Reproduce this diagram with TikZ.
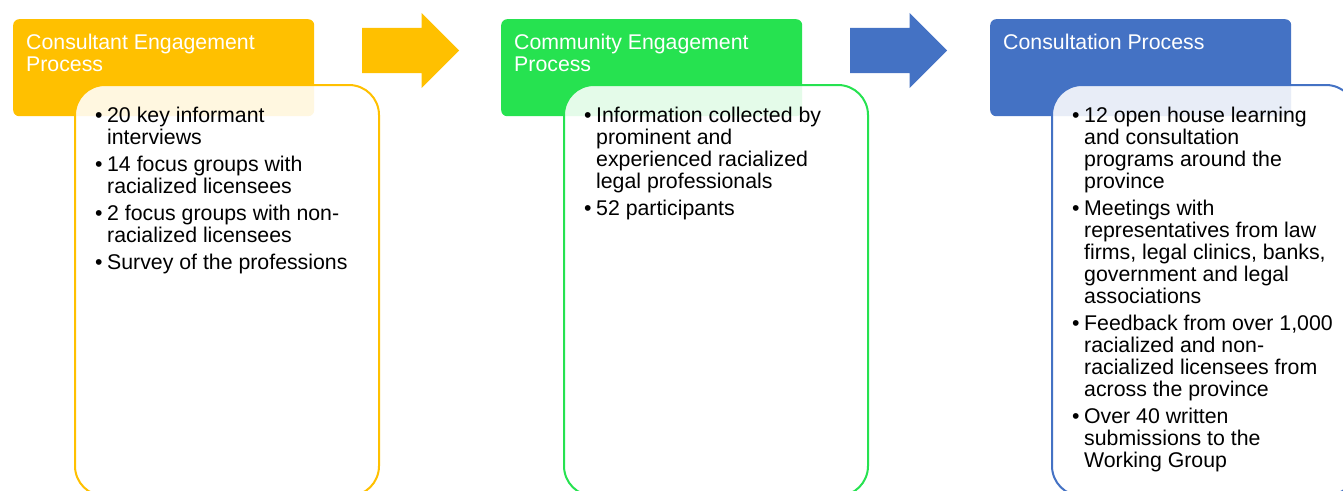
\documentclass[tikz,border=0pt]{standalone}
\usepackage{fontspec}
\setmainfont{Liberation Sans}
\usetikzlibrary{positioning}
\usetikzlibrary{shapes.arrows}
\definecolor{conyellow}{HTML}{FFC000}
\definecolor{comgreen}{HTML}{26E250}
\definecolor{cnsblue}{HTML}{4472C4}

\begin{document}
\begin{tikzpicture}[x=1pt, y=-1pt,
headbox/.style={rectangle, rounded corners=6pt, fill=#1, minimum width=301pt, minimum height=97pt, inner sep=0pt, anchor=north west},
bodybox/.style={rectangle, rounded corners=30pt, draw=#1, line width=2pt, fill=white, fill opacity=0.88, draw opacity=1, minimum width=304pt, minimum height=411pt, inner sep=0pt},
headtext/.style={text=white, inner sep=0pt, font=\fontsize{21.3}{22}\selectfont},
bodytext/.style={text=black, inner sep=0pt, font=\fontsize{21.3}{22}\selectfont},
flowarrow/.style={single arrow, fill=#1, single arrow head extend=15pt, single arrow tip angle=90, minimum height=97pt, inner xsep=0pt, inner ysep=22.5pt, anchor=west},
]
\useasboundingbox (0,0) rectangle (1343,490);

%Headers
\node[headbox=conyellow] (conhead) at (13,19)   {};
\node[headbox=comgreen]  (comhead) at (501,19)  {};
\node[headbox=cnsblue]   (cnshead) at (990,19)  {};

%Arrows
\node[flowarrow=conyellow] (arrowa) at (362,50.5) {};
\node[flowarrow=cnsblue]   (arrowb) at (850,50.5) {};

%Bodies
\node[bodybox=conyellow] (conbody) [below right=65pt and 61pt of conhead.north west] {};
\node[bodybox=comgreen]  (combody) [below right=65pt and 62pt of comhead.north west] {};
\node[bodybox=cnsblue]   (cnsbody) [below right=65pt and 61pt of cnshead.north west] {};

%Titles
\node[headtext, below right=30pt and 13pt of conhead.north west, anchor=base west] (contitle)
  {\begin{tabular}[t]{@{}l@{}}Consultant Engagement\\Process\end{tabular}};
\node[headtext, below right=30pt and 13pt of comhead.north west, anchor=base west] (comtitle)
  {\begin{tabular}[t]{@{}l@{}}Community Engagement\\Process\end{tabular}};
\node[headtext, below right=30pt and 13pt of cnshead.north west, anchor=base west] (cnstitle)
  {Consultation Process};

%Lists
\node[bodytext, below right=38pt and 21pt of conbody.north west, anchor=base west] (conlist)
  {\begin{tabular}[t]{@{}l@{\hspace{4.5pt}}l@{}}
  \textbullet & 20 key informant\\ & interviews\\[5pt]
  \textbullet & 14 focus groups with\\ & racialized licensees\\[5pt]
  \textbullet & 2 focus groups with non-\\ & racialized licensees\\[5pt]
  \textbullet & Survey of the professions
  \end{tabular}};
\node[bodytext, below right=38pt and 21pt of combody.north west, anchor=base west] (comlist)
  {\begin{tabular}[t]{@{}l@{\hspace{4.5pt}}l@{}}
  \textbullet & Information collected by\\ & prominent and\\ & experienced racialized\\ & legal professionals\\[5pt]
  \textbullet & 52 participants
  \end{tabular}};
\node[bodytext, below right=38pt and 21pt of cnsbody.north west, anchor=base west] (cnslist)
  {\begin{tabular}[t]{@{}l@{\hspace{4.5pt}}l@{}}
  \textbullet & 12 open house learning\\ & and consultation\\ & programs around the\\ & province\\[5pt]
  \textbullet & Meetings with\\ & representatives from law\\ & firms, legal clinics, banks,\\ & government and legal\\ & associations\\[5pt]
  \textbullet & Feedback from over 1,000\\ & racialized and non-\\ & racialized licensees from\\ & across the province\\[5pt]
  \textbullet & Over 40 written\\ & submissions to the\\ & Working Group
  \end{tabular}};
\end{tikzpicture}
\end{document}
